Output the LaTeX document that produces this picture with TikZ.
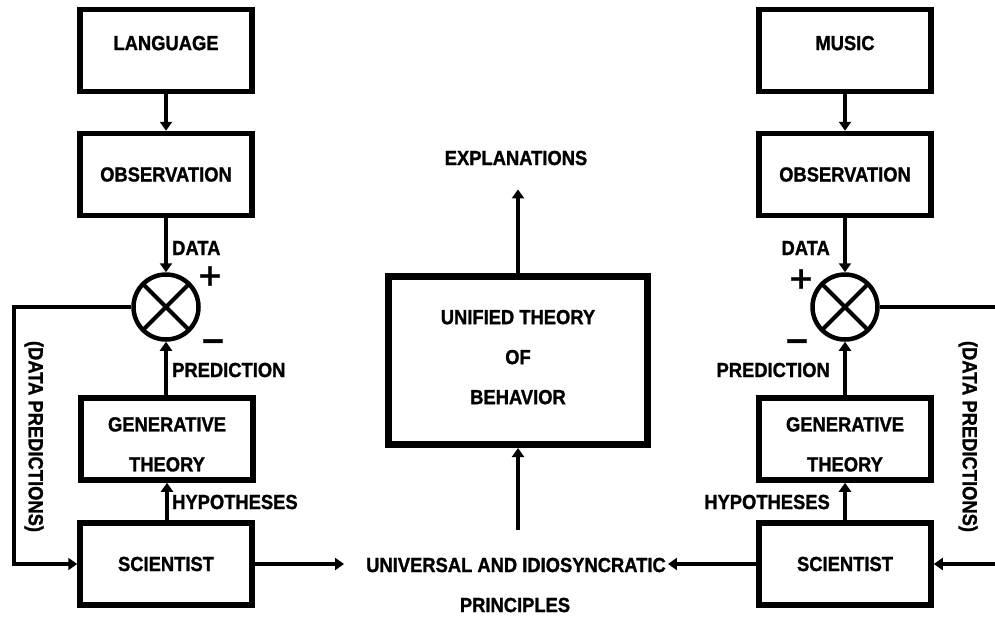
\documentclass[tikz,border=0pt]{standalone}
\usepackage{fontspec}
\setmainfont{Liberation Sans}[BoldFont={Liberation Sans Bold}, BoldFeatures={FakeBold=1.2, FakeStretch=0.9}]
\newfontfamily\symfont{DejaVu Sans}[BoldFeatures={FakeBold=1.5}]
\usetikzlibrary{arrows.meta}
\begin{document}
\begin{tikzpicture}[x=1pt,y=-1pt,
  txt/.style={font=\fontsize{20.4}{22}\selectfont\bfseries},
  box/.style={txt, draw, line width=5.5pt, minimum width=172pt, minimum height=82pt, inner sep=0pt, align=center},
  bigbox/.style={txt, draw, line width=7pt, minimum width=259pt, minimum height=168pt, inner sep=0pt, align=center},
  lbl/.style={txt, inner sep=0pt},
  sgn/.style={inner sep=0pt, font=\symfont\fontsize{30}{30}\selectfont\bfseries},
  arr/.style={line width=4.5pt, line join=miter, -{Triangle[length=9pt,width=12pt]}},
  ln/.style={line width=4.5pt},
  sumnode/.style={draw, circle, line width=4.5pt, minimum size=65pt, inner sep=0pt,
    path picture={\draw[line width=4pt] (path picture bounding box.north west) -- (path picture bounding box.south east)
                                       (path picture bounding box.north east) -- (path picture bounding box.south west);}}
]
\fill[white] (0,0) rectangle (995,619);
\useasboundingbox (0,0) rectangle (995,619);

% left column
\node[box] (lang) at (166,50.5) {LANGUAGE\rule[-15pt]{0pt}{15pt}};
\node[box] (obsL) at (166,174.5) {OBSERVATION};
\node[sumnode] (sumL) at (166,307) {};
\node[box] (genL) at (167,439) {\rule{0pt}{25pt}GENERATIVE\\[18pt]THEORY};
\node[box] (sciL) at (166,564) {SCIENTIST};

% right column
\node[box] (music) at (845,50.5) {MUSIC\rule[-15pt]{0pt}{15pt}};
\node[box] (obsR) at (845,174.5) {OBSERVATION};
\node[sumnode] (sumR) at (845,307) {};
\node[box] (genR) at (845,439) {\rule{0pt}{25pt}GENERATIVE\\[18pt]THEORY};
\node[box] (sciR) at (845,564) {SCIENTIST};

% centre
\node[bigbox] (unified) at (518,360.5) {UNIFIED THEORY\\[18pt]OF\\[18pt]BEHAVIOR\rule[-7pt]{0pt}{7pt}};
\node[lbl] (expl) at (516,158) {EXPLANATIONS};
\node[lbl] (univ) at (516,565) {UNIVERSAL AND IDIOSYNCRATIC};
\node[lbl] (princ) at (515,605) {PRINCIPLES};

% labels left
\node[lbl, anchor=west] (dataL) at (172,248) {DATA};
\node[sgn] (plusL) at (210,276) {+};
\node[sgn] (minusL) at (213,345) {−};
\node[lbl, anchor=west] (predL) at (172,370) {PREDICTION};
\node[lbl, anchor=west] (hypL) at (172,502) {HYPOTHESES};
\node[lbl, rotate=-90] (dpL) at (34,436.5) {(DATA PREDICTIONS)};

% labels right
\node[lbl, anchor=east] (dataR) at (830,248) {DATA};
\node[sgn] (plusR) at (801,279) {+};
\node[sgn] (minusR) at (797,345) {−};
\node[lbl, anchor=east] (predR) at (830,370) {PREDICTION};
\node[lbl, anchor=east] (hypR) at (830,502) {HYPOTHESES};
\node[lbl, rotate=-90] (dpR) at (968,436.5) {(DATA PREDICTIONS)};

% coordinates for free ends
\coordinate (fbL) at (14,307);
\coordinate (fbR1) at (995,307);
\coordinate (fbR2) at (995,564);

% connectors left
\draw[arr] (lang) -- (obsL);
\draw[arr] (obsL) -- (sumL);
\draw[arr] (genL.north -| sumL) -- (sumL);
\draw[arr] (sciL.north -| genL.south) -- (genL.south);
\draw[arr] (sumL.west) -- (fbL) |- (sciL.west);
\draw[arr, shorten >=22pt] (sciL.east) -- (univ.west |- sciL.east);

% connectors right
\draw[arr] (music) -- (obsR);
\draw[arr] (obsR) -- (sumR);
\draw[arr] (genR) -- (sumR);
\draw[arr] (sciR) -- (genR);
\draw[ln] (sumR.east) -- (fbR1);
\draw[arr] (fbR2) -- (sciR.east);
\draw[arr, shorten >=2pt] (sciR.west) -- (univ.east |- sciR.west);

% centre connectors
\draw[arr, shorten <=28pt] (univ.north -| unified.south) -- (unified.south);
\draw[arr, shorten >=24pt] (unified.north) -- (unified.north |- expl.south);
\end{tikzpicture}
\end{document}
